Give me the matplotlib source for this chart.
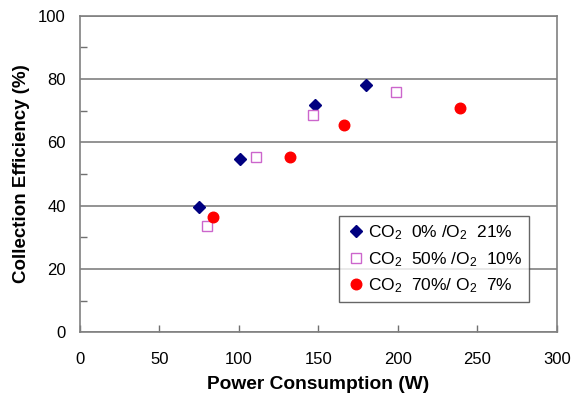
import numpy as np
import matplotlib.pyplot as plt
from matplotlib.ticker import MultipleLocator

plt.rcParams['font.family'] = ['Liberation Sans', 'DejaVu Sans']
plt.rcParams['mathtext.default'] = 'regular'

# CO2 0% / O2 21%
power_a = [75, 101, 148, 180]
eff_a = [39.7, 54.7, 71.7, 78.2]
# CO2 50% / O2 10%
power_b = [80, 111, 147, 199]
eff_b = [33.7, 55.5, 68.7, 75.9]
# CO2 70% / O2 7%
power_c = [84, 132, 166, 239]
eff_c = [36.3, 55.4, 65.4, 70.9]

labels = [r'CO$_2$  0% /O$_2$  21%',
          r'CO$_2$  50% /O$_2$  10%',
          r'CO$_2$  70%/ O$_2$  7%']

fig = plt.figure(figsize=(5.73, 4.03), dpi=100)
ax = fig.add_axes([79.7 / 573, 1 - 332.3 / 403, 477 / 573, 316.6 / 403])

ax.plot(power_a, eff_a, 'D', color='#000080', markersize=6.2, label=labels[0], zorder=3)
ax.plot(power_b, eff_b, 's', markerfacecolor='white', markeredgecolor='#CC66CC',
        markeredgewidth=1.0, markersize=7.2, label=labels[1], zorder=3)
ax.plot(power_c, eff_c, 'o', color='#FF0000', markersize=7.6, label=labels[2], zorder=3)

ax.set_xlim(0, 300)
ax.set_ylim(0, 100)
ax.xaxis.set_major_locator(MultipleLocator(50))
ax.yaxis.set_major_locator(MultipleLocator(20))
ax.yaxis.set_minor_locator(MultipleLocator(10))
ax.tick_params(axis='both', which='both', direction='in', colors='#707070',
               labelcolor='black', labelsize=12, width=1)
ax.tick_params(axis='x', which='major', length=5, pad=14)
ax.tick_params(axis='y', which='major', length=0, pad=10)
ax.tick_params(axis='y', which='minor', length=5)

ax.grid(True, axis='y', which='major', color='#808080', linewidth=1.2)
ax.set_axisbelow(True)
for side in ax.spines.values():
    side.set_color('#808080')
    side.set_linewidth(1.2)

ax.set_xlabel('Power Consumption (W)', fontsize=13.8, fontweight='bold', labelpad=7)
ax.set_ylabel('Collection Efficiency (%)', fontsize=13.5, fontweight='bold', labelpad=6)

leg = ax.legend(loc='lower right', fontsize=12.5, frameon=True, fancybox=False,
                edgecolor='#404040', handletextpad=0.1, handlelength=1.2,
                borderpad=0.4, labelspacing=0.45, borderaxespad=0)
leg.get_frame().set_linewidth(1)
leg.set_bbox_to_anchor((529.3 / 573, 1 - 302 / 403), transform=fig.transFigure)

fig.savefig('out.png', dpi=100)
